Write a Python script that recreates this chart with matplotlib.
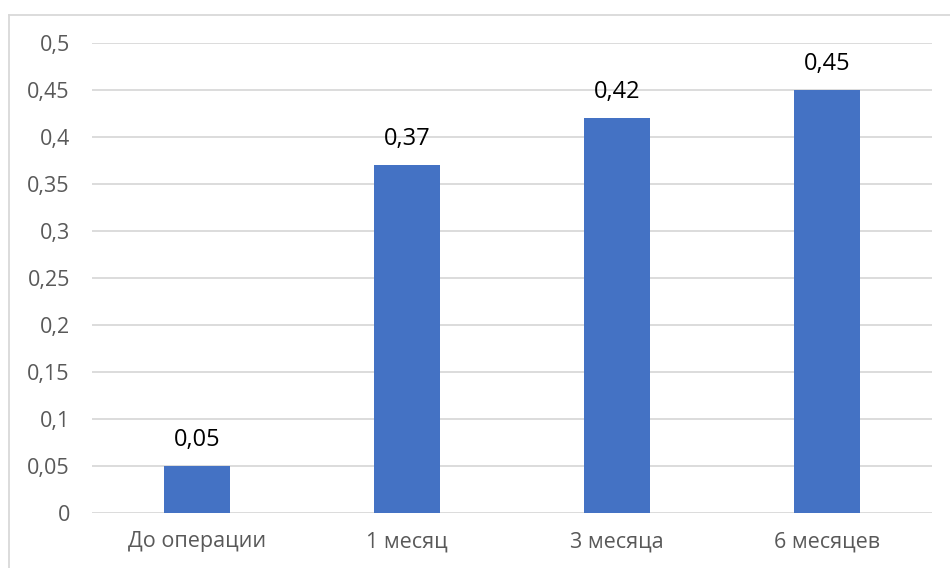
import matplotlib
matplotlib.use("Agg")
from matplotlib import pyplot as plt
from matplotlib.lines import Line2D

# Data
categories = ["До операции", "1 месяц", "3 месяца", "6 месяцев"]
values = [0.05, 0.37, 0.42, 0.45]
y_ticks = [0, 0.05, 0.1, 0.15, 0.2, 0.25, 0.3, 0.35, 0.4, 0.45, 0.5]

def ru(v):
    s = f"{v:.2f}".rstrip("0").rstrip(".")
    return s.replace(".", ",")

plt.rcParams['font.family'] = ['Open Sans', 'DejaVu Sans']

fig = plt.figure(figsize=(9.5, 5.68), dpi=100)
ax = fig.add_axes([92 / 950, 1 - 513 / 568, 840 / 950, 470 / 568])

x = range(len(categories))
ax.bar(x, values, width=0.315, color="#4472C4", zorder=3)

for xi, v in zip(x, values):
    ax.annotate(ru(v), (xi, v), xytext=(0, 10), textcoords="offset points",
                ha="center", va="bottom", fontsize=17, color="#000000")

ax.set_xlim(-0.5, len(categories) - 0.5)
ax.set_ylim(0, 0.5)
ax.set_yticks(y_ticks)
ax.set_yticklabels([ru(t) for t in y_ticks])
ax.set_xticks(list(x))
ax.set_xticklabels(categories)
ax.tick_params(axis="both", length=0, labelsize=15.5, colors="#595959")
ax.tick_params(axis="y", pad=16)
ax.tick_params(axis="x", pad=13)
ax.grid(axis="y", color="#D9D9D9", linewidth=1.3, zorder=0)
for s in ax.spines.values():
    s.set_visible(False)

# chart border (top and left visible)
fig.add_artist(Line2D([9 / 950, 9 / 950], [0, 1 - 15 / 568], color="#D9D9D9", linewidth=1.3))
fig.add_artist(Line2D([9 / 950, 1], [1 - 15 / 568, 1 - 15 / 568], color="#D9D9D9", linewidth=1.3))

fig.savefig("out.png", dpi=100)
plt.close()
